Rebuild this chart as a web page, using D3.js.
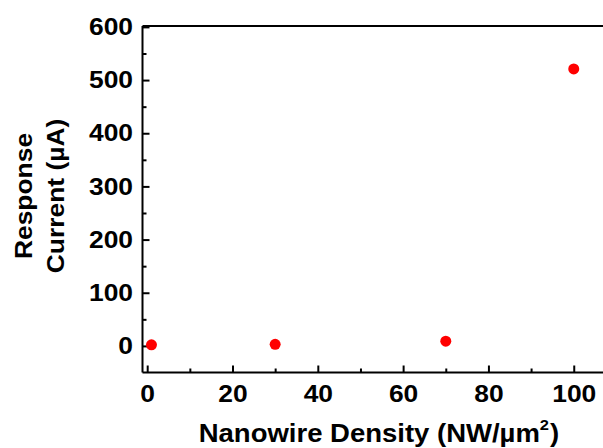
<!DOCTYPE html>
<html>
<head>
<meta charset="utf-8">
<script src="https://cdn.jsdelivr.net/npm/d3@7"></script>
<style>
  html, body { margin: 0; padding: 0; background: #fff; overflow: hidden; }
  svg { display: block; }
  text { font-family: "Liberation Sans", Arial, sans-serif; font-weight: bold; fill: #000; }
</style>
</head>
<body>
<svg id="chart" width="603" height="448"></svg>
<script>
// Nanowire density (NW/µm²) vs. response current (µA)
const density = [1, 30, 70, 100];
const current = [2, 3, 9, 521];
const xTicks = [0, 20, 40, 60, 80, 100];
const yTicks = [0, 100, 200, 300, 400, 500, 600];

const svg = d3.select("#chart");
const plotLeft = 142.5, plotTop = 26, plotBottom = 372.5;
const stretch = 1.1;   // slightly wide lettering
const fontStack = "Liberation Sans, Arial, sans-serif";

const x = d3.scaleLinear().domain([-1.1, 108.5]).range([plotLeft, 610]);
const y = d3.scaleLinear().domain([-50, 600]).range([plotBottom, 26.9]);

// Frame: top border
svg.append("line")
  .attr("x1", plotLeft).attr("x2", 603)
  .attr("y1", plotTop).attr("y2", plotTop)
  .attr("stroke", "#000").attr("stroke-width", 2);

// X axis with inward ticks
const xAxis = d3.axisBottom(x)
  .tickValues(d3.range(0, 111, 10))
  .tickSize(-7)
  .tickSizeOuter(0)
  .tickFormat(d => xTicks.includes(d) ? d : "");
const gx = svg.append("g").attr("transform", `translate(0,${plotBottom})`).call(xAxis);
gx.select(".domain").attr("stroke-width", 2).attr("d", `M${plotLeft},0H603`);
gx.selectAll(".tick line").attr("stroke-width", 2)
  .attr("y2", d => xTicks.includes(d) ? -7 : -4);
gx.selectAll(".tick text")
  .attr("y", 12.5).attr("dy", "0.71em")
  .attr("transform", `scale(${stretch},1)`)
  .style("font-size", "24px").style("font-family", fontStack).style("font-weight", "bold");

// Y axis with inward ticks
const yAxis = d3.axisLeft(y)
  .tickValues(d3.range(-50, 601, 50))
  .tickSize(-7)
  .tickSizeOuter(0)
  .tickFormat(d => yTicks.includes(d) ? d : "");
const gy = svg.append("g").attr("transform", `translate(${plotLeft},0)`).call(yAxis);
gy.select(".domain").attr("stroke-width", 2).attr("d", `M0,${plotTop}V${plotBottom}`);
gy.selectAll(".tick line").attr("stroke-width", 2)
  .attr("x2", d => yTicks.includes(d) ? 7 : 4)
  .attr("display", d => d === -50 ? "none" : null);
gy.selectAll(".tick text")
  .attr("x", -9.5 / stretch)
  .attr("transform", `scale(${stretch},1)`)
  .style("font-size", "24px").style("font-family", fontStack).style("font-weight", "bold");

// Data points
svg.append("g").selectAll("circle")
  .data(density.map((d, i) => [d, current[i]]))
  .join("circle")
  .attr("cx", d => x(d[0]))
  .attr("cy", d => y(d[1]))
  .attr("r", 5.5)
  .attr("fill", "#ff0000");

// X axis title
const xt = svg.append("text")
  .attr("transform", `translate(379,442) scale(${stretch},1)`)
  .attr("text-anchor", "middle")
  .style("font-size", "25px");
xt.append("tspan").text("Nanowire Density (NW/\u00b5m");
xt.append("tspan").attr("dy", -12).style("font-size", "15px").text("2");
xt.append("tspan").attr("dy", 12).attr("dx", 1).text(")");

// Y axis title, two lines
const yt = svg.append("text")
  .attr("transform", `translate(0,196) rotate(-90) scale(${stretch},1)`)
  .attr("text-anchor", "middle")
  .style("font-size", "24px");
yt.append("tspan").attr("x", 0).attr("y", 32).text("Response");
yt.append("tspan").attr("x", 0).attr("y", 64).text("Current (\u00b5A)");
</script>
</body>
</html>
